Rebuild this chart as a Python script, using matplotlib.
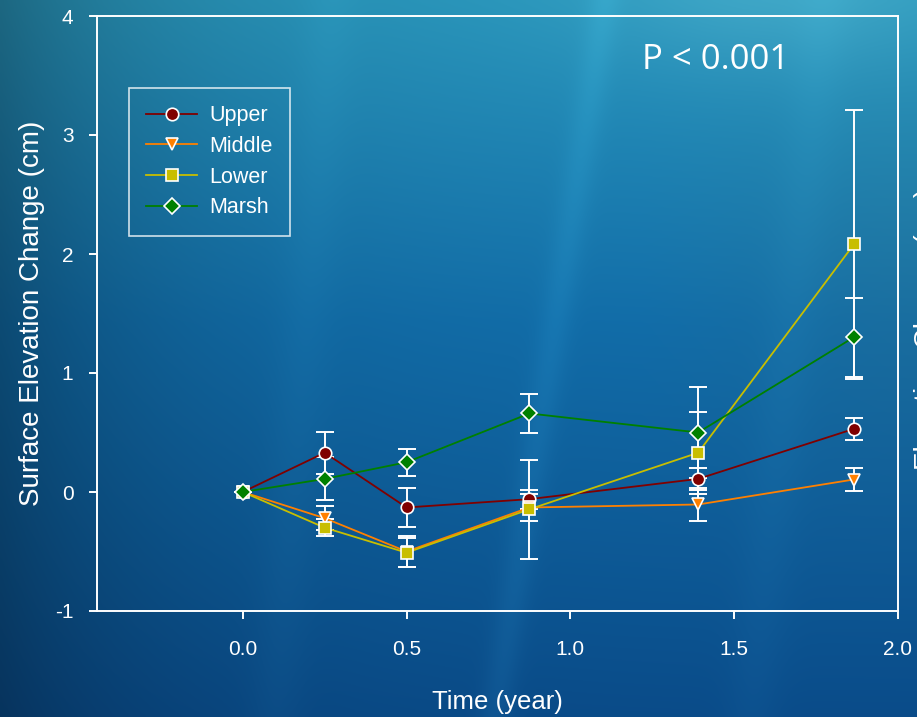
import numpy as np
import matplotlib
matplotlib.use("Agg")
import matplotlib.pyplot as plt

# ---- data ----
time = [0.0, 0.25, 0.5, 0.875, 1.39, 1.865]
upper = [0.0, 0.33, -0.13, -0.06, 0.11, 0.53]
upper_err = [0.0, 0.175, 0.16, 0.08, 0.095, 0.095]
middle = [0.0, -0.22, -0.50, -0.13, -0.105, 0.105]
middle_err = [0.0, 0.10, 0.13, 0.115, 0.14, 0.095]
lower = [0.0, -0.30, -0.51, -0.145, 0.33, 2.08]
lower_err = [0.0, 0.07, 0.12, 0.415, 0.345, 1.13]
marsh = [0.0, 0.11, 0.25, 0.66, 0.50, 1.30]
marsh_err = [0.0, 0.18, 0.115, 0.165, 0.38, 0.33]
series_names = ["Upper", "Middle", "Lower", "Marsh"]
xticks = [0.0, 0.5, 1.0, 1.5, 2.0]
yticks = [-1, 0, 1, 2, 3, 4]

W, H = 917, 717
fig = plt.figure(figsize=(W / 100, H / 100), dpi=100)
plt.rcParams['font.family'] = ['Liberation Sans', 'DejaVu Sans']

# ---- background gradient ----
bg = fig.add_axes([0, 0, 1, 1], zorder=-10)
bg.set_axis_off()
yy, xx = np.mgrid[0:1:300j, 0:1:400j]  # yy: 0 top -> 1 bottom
T = np.array([42, 152, 190]) / 255
M = np.array([18, 110, 170]) / 255
B = np.array([10, 76, 138]) / 255
w1 = np.clip(yy / 0.45, 0, 1)[..., None]
w2 = np.clip((yy - 0.45) / 0.55, 0, 1)[..., None]
img = T * (1 - w1) + M * w1
img = img * (1 - w2) + B * w2
# darker toward left
f = 1 - 0.32 * np.exp(-xx / 0.2)
img = img * f[..., None]
# teal tint at right
img = img + (np.clip((xx - 0.7) / 0.3, 0, 1) * np.exp(-((yy - 0.4) / 0.3) ** 2))[..., None] * np.array([0.03, 0.0, -0.04])
# glow top right
glow = np.exp(-(((xx - 0.85) / 0.2) ** 2 + ((yy + 0.02) / 0.12) ** 2))
img = img + glow[..., None] * np.array([0.08, 0.06, 0.04])
# light streaks
for top_x, bot_x, wd, a in [(0.66, 0.54, 0.018, 0.04), (0.36, 0.30, 0.03, 0.02), (0.9, 0.82, 0.03, 0.02)]:
    cx = top_x + (bot_x - top_x) * yy
    ray = np.exp(-((xx - cx) / wd) ** 2)
    img = img + ray[..., None] * a * np.array([0.5, 1.0, 1.0])
img = np.clip(img, 0, 1)
bg.imshow(img, extent=[0, 1, 0, 1], aspect='auto', interpolation='bicubic')
bg.set_xlim(0, 1)
bg.set_ylim(0, 1)

# ---- main axes ----
ax = fig.add_axes([97 / W, (H - 611) / H, (898 - 97) / W, (611 - 16) / H])
ax.set_facecolor('none')
ax.set_xlim(-0.445, 2.0)
ax.set_ylim(-1, 4)

colors = ["#800000", "#FF8000", "#C8BE00", "#008000"]
markers = ["o", "v", "s", "D"]
vals = [upper, middle, lower, marsh]
errs = [upper_err, middle_err, lower_err, marsh_err]

for name, v, e, c, m in zip(series_names, vals, errs, colors, markers):
    ax.errorbar(time, v, yerr=e, fmt='none', ecolor='white', elinewidth=1.4,
                capsize=6.2, capthick=1.4, zorder=2)
for name, v, c, m in zip(series_names, vals, colors, markers):
    ms = 9 if m != 'D' else 8.5
    ax.plot(time, v, color=c, lw=1.3, marker=m, markersize=ms,
            markerfacecolor=c, markeredgecolor='white', markeredgewidth=1.2,
            label=name, zorder=3)

for s in ax.spines.values():
    s.set_color('white')
    s.set_linewidth(1.4)
ax.tick_params(colors='white', labelcolor='white', direction='out', length=6,
               width=1.4, labelsize=15)
ax.set_xticks(xticks)
ax.set_xticklabels([f"{t:.1f}" for t in xticks])
ax.set_yticks(yticks)
ax.set_yticklabels([str(t) for t in yticks])
ax.tick_params(axis='x', pad=15)
ax.tick_params(axis='y', pad=11)

ax.set_xlabel("Time (year)", color='white', fontsize=18.5, labelpad=22)
ax.set_ylabel("Surface Elevation Change (cm)", color='white', fontsize=20, labelpad=7)

leg = ax.legend(loc='upper left', bbox_to_anchor=((129 - 97) / 801, (611 - 88) / 595),
                fontsize=15.5, frameon=True, fancybox=False, handlelength=2.35,
                labelspacing=0.45, borderpad=0.8, handletextpad=0.6, borderaxespad=0)
fr = leg.get_frame()
fr.set_facecolor('none')
fr.set_edgecolor('white')
fr.set_linewidth(1.2)
for t in leg.get_texts():
    t.set_color('white')

fig.text(716 / W, (H - 60) / H, "P < 0.001", color='white', fontsize=25,
         family=['Open Sans', 'DejaVu Sans'], ha='center', va='center')

fig.text(914.5 / W, (H - 470) / H, "Elevation Change (cm)", rotation=90, color='white',
         fontsize=20, ha='left', va='bottom')

fig.savefig("out.png", dpi=100)
